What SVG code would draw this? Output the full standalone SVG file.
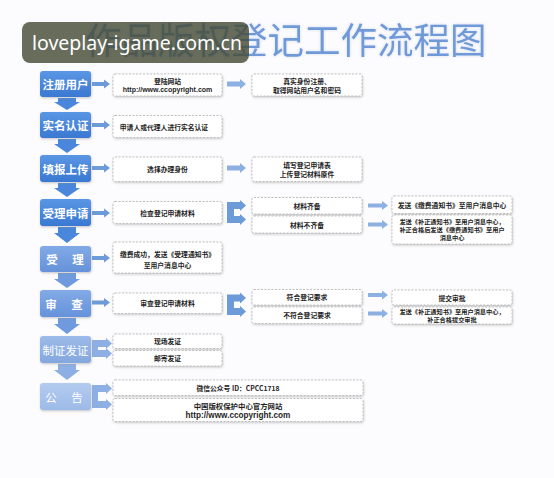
<svg xmlns="http://www.w3.org/2000/svg" width="554" height="478" viewBox="0 0 554 478">
<defs>
<linearGradient id="g1" x1="0" y1="0" x2="0" y2="1"><stop offset="0" stop-color="#5a96e4"/><stop offset="1" stop-color="#3a78d2"/></linearGradient>
<linearGradient id="g2" x1="0" y1="0" x2="0" y2="1"><stop offset="0" stop-color="#82aae6"/><stop offset="1" stop-color="#6592da"/></linearGradient>
<linearGradient id="g3" x1="0" y1="0" x2="0" y2="1"><stop offset="0" stop-color="#9cbbe9"/><stop offset="1" stop-color="#84a7df"/></linearGradient>
<linearGradient id="g4" x1="0" y1="0" x2="0" y2="1"><stop offset="0" stop-color="#b3cbef"/><stop offset="1" stop-color="#9dbae8"/></linearGradient>
<filter id="sh" x="-10%" y="-20%" width="130%" height="160%"><feDropShadow dx="0.6" dy="1.2" stdDeviation="1" flood-color="#8a8a8a" flood-opacity="0.45"/></filter>
<filter id="glow" x="-5%" y="-20%" width="110%" height="140%"><feDropShadow dx="0" dy="0" stdDeviation="1.5" flood-color="#c9d8f2" flood-opacity="0.9"/></filter>
</defs>
<style>
.lb{stroke:none;filter:url(#sh)}
.lt{font-family:"Noto Sans CJK SC","Noto Sans",sans-serif;font-weight:700;font-size:11.5px;fill:#ffffff;text-anchor:middle;dominant-baseline:central}
.db{fill:#ffffff;stroke:#b4b4b4;stroke-width:0.8;stroke-dasharray:2 1.5;filter:url(#sh)}
.t{font-family:"Noto Sans CJK SC","Liberation Sans",sans-serif;font-weight:700;font-size:6.8px;fill:#1e1e1e;text-anchor:middle;dominant-baseline:central}
.s{font-size:6.2px}
.u{font-family:"Liberation Sans","Noto Sans CJK SC",sans-serif;font-weight:700;font-size:7px;fill:#1e1e1e;text-anchor:middle;dominant-baseline:central}
.ha{fill:#6d9ad9}
.ma{fill:#8db0e3}
.da1{fill:#4a87dc}
.da2{fill:#6f9bde}
.da3{fill:#8eafe3}
</style>
<rect x="0" y="0" width="554" height="478" fill="#fcfbfd"/>
<text x="85" y="54" font-family="'Noto Sans CJK SC',sans-serif" font-size="36.5" fill="#7099d8" filter="url(#glow)">作品版权登记工作流程图</text>

<g id="connectors">
<polygon class="da1" points="58,98 76,98 76,102 80,102 67,110 54,102 58,102"/>
<polygon class="da1" points="58,139 76,139 76,144 80,144 67,153 54,144 58,144"/>
<polygon class="da1" points="58,183 76,183 76,188 80,188 67,197 54,188 58,188"/>
<polygon class="da1" points="58,227 76,227 76,233 80,233 67,243 54,233 58,233"/>
<polygon class="da2" points="58,273 76,273 76,279 80,279 67,288 54,279 58,279"/>
<polygon class="da2" points="58,318 76,318 76,324 80,324 67,334 54,324 58,324"/>
<polygon class="da3" points="58,364 76,364 76,370 80,370 67,380 54,370 58,370"/>
<polygon class="ha" points="92,82 104,82 104,79.5 110,84 104,88.5 104,86 92,86"/>
<polygon class="ha" points="92,123 104,123 104,120.5 110,125 104,129.5 104,127 92,127"/>
<polygon class="ha" points="92,166 104,166 104,163.5 110,168 104,172.5 104,170 92,170"/>
<polygon class="ha" points="92,211 104,211 104,208.5 110,213 104,217.5 104,215 92,215"/>
<polygon class="ha" points="92,256 104,256 104,253.5 110,258 104,262.5 104,260 92,260"/>
<polygon class="ha" points="92,300.5 104,300.5 104,298 110,302.5 104,307 104,304.5 92,304.5"/>
<polygon class="ma" points="227,81.5 240,81.5 240,79 246,84 240,89 240,86.5 227,86.5"/>
<polygon class="ma" points="227,165.5 240,165.5 240,163 246,168 240,173 240,170.5 227,170.5"/>
<path class="ha" d="M227,202 H240 V200 L246,205.5 L240,211 V209 H234 V216 H240 V214 L246,219.5 L240,225 V223 H227 Z"/>
<path class="ha" d="M227,294.5 H240 V292.5 L246,298 L240,303.5 V301.5 H234 V308 H240 V306 L246,311.5 L240,317 V315 H227 Z"/>
<path class="da3" d="M92,340 H106 V338 L112,343.5 L106,349 V347 H98 V350 H106 V348 L112,353.5 L106,359 V357 H92 Z"/>
<path class="da3" d="M92,385 H106 V383 L112,388.5 L106,394 V392 H98 V401 H106 V399 L112,404.5 L106,410 V408 H92 Z"/>
<polygon class="ma" points="368,203.5 382,203.5 382,201 388,205.5 382,210 382,207.5 368,207.5"/>
<polygon class="ma" points="368,222.5 382,222.5 382,220 388,224.5 382,229 382,226.5 368,226.5"/>
<polygon class="ma" points="368,293 382,293 382,290.5 388,295 382,299.5 382,297 368,297"/>
<polygon class="ma" points="368,311.5 382,311.5 382,309 388,313.5 382,318 382,315.5 368,315.5"/>
</g>

<g id="n-zhuce"><rect class="lb" x="40" y="71" width="51" height="26" rx="3" fill="url(#g1)"/><text class="lt" x="65.5" y="84">注册用户</text></g>
<g id="n-shiming"><rect class="lb" x="40" y="112" width="51" height="26" rx="3" fill="url(#g1)"/><text class="lt" x="65.5" y="125">实名认证</text></g>
<g id="n-tianbao"><rect class="lb" x="40" y="155" width="51" height="27" rx="3" fill="url(#g1)"/><text class="lt" x="65.5" y="168.5">填报上传</text></g>
<g id="n-shouli-sq"><rect class="lb" x="40" y="199" width="51" height="27" rx="3" fill="url(#g1)"/><text class="lt" x="65.5" y="212.5">受理申请</text></g>
<g id="n-shouli"><rect class="lb" x="40" y="246" width="51" height="26" rx="3" fill="url(#g2)"/><text class="lt" x="52" y="259">受</text><text class="lt" x="78" y="259">理</text></g>
<g id="n-shencha"><rect class="lb" x="40" y="290" width="51" height="27" rx="3" fill="url(#g2)"/><text class="lt" x="51" y="303.5">审</text><text class="lt" x="77" y="303.5">查</text></g>
<g id="n-zhizheng"><rect class="lb" x="40" y="336" width="51" height="27" rx="3" fill="url(#g3)"/><text class="lt" x="65.5" y="349.5" style="font-weight:400">制证发证</text></g>
<g id="n-gonggao"><rect class="lb" x="40" y="383" width="51" height="27" rx="3" fill="url(#g4)"/><text class="lt" x="51" y="396.5" style="font-weight:400">公</text><text class="lt" x="77" y="396.5" style="font-weight:400">告</text></g>

<g id="b-denglu"><rect class="db" x="113" y="74" width="109" height="22" rx="2"/><text class="t" x="167.5" y="80.5">登陆网站</text><text class="u" x="167.5" y="89.5">http://www.ccopyright.com</text></g>
<g id="b-zhenshi"><rect class="db" x="252" y="74" width="110" height="22" rx="2"/><text class="t" x="307" y="80.5">真实身份注册、</text><text class="t" x="307" y="89.5">取得网站用户名和密码</text></g>
<g id="b-shiming"><rect class="db" x="113" y="115.5" width="109" height="22" rx="2"/><text class="t" x="164" y="126.5">申请人或代理人进行实名认证</text></g>
<g id="b-xuanze"><rect class="db" x="113" y="157" width="109" height="24.5" rx="2"/><text class="t" x="167.5" y="169">选择办理身份</text></g>
<g id="b-tianxie"><rect class="db" x="252" y="157" width="110" height="24.5" rx="2"/><text class="t" x="307" y="164.5">填写登记申请表</text><text class="t" x="307" y="174">上传登记材料原件</text></g>
<g id="b-jiancha"><rect class="db" x="113" y="201.5" width="109" height="22" rx="2"/><text class="t" x="167.5" y="212.5">检查登记申请材料</text></g>
<g id="b-qibei"><rect class="db" x="252" y="197.5" width="110" height="16.5" rx="2"/><text class="t" x="307" y="205.5">材料齐备</text></g>
<g id="b-buqibei"><rect class="db" x="252" y="216" width="110" height="17" rx="2"/><text class="t" x="307" y="224.5">材料不齐备</text></g>
<g id="b-jiaofei"><rect class="db" x="392" y="196" width="120" height="17.5" rx="2"/><text class="t" x="452" y="205">发送《缴费通知书》至用户消息中心</text></g>
<g id="b-buzheng1"><rect class="db" x="392" y="215" width="120" height="29" rx="2"/><text class="t s" x="452" y="221.5">发送《补正通知书》至用户消息中心，</text><text class="t s" x="452" y="229.5">补正合格后发送《缴费通知书》至用户</text><text class="t s" x="452" y="237.5">消息中心</text></g>
<g id="b-jiaofei-ok"><rect class="db" x="113" y="242" width="109" height="31" rx="2"/><text class="t" x="167.5" y="253.5">缴费成功，发送《受理通知书》</text><text class="t" x="167.5" y="264.5">至用户消息中心</text></g>
<g id="b-shencha"><rect class="db" x="113" y="293" width="109" height="20.5" rx="2"/><text class="t" x="167.5" y="303">审查登记申请材料</text></g>
<g id="b-fuhe"><rect class="db" x="252" y="289.5" width="110" height="15.5" rx="2"/><text class="t" x="307" y="297">符合登记要求</text></g>
<g id="b-bufuhe"><rect class="db" x="252" y="307" width="110" height="16.5" rx="2"/><text class="t" x="307" y="315">不符合登记要求</text></g>
<g id="b-tijiao"><rect class="db" x="392" y="290" width="120" height="15" rx="2"/><text class="t" x="452" y="297.5">提交审批</text></g>
<g id="b-buzheng2"><rect class="db" x="392" y="307" width="120" height="17" rx="2"/><text class="t s" x="452" y="311.5">发送《补正通知书》至用户消息中心，</text><text class="t s" x="452" y="319.5">补正合格提交审批</text></g>
<g id="b-xianchang"><rect class="db" x="113" y="334" width="109" height="14.5" rx="2"/><text class="t" x="167.5" y="341">现场发证</text></g>
<g id="b-youji"><rect class="db" x="113" y="350.5" width="109" height="15.5" rx="2"/><text class="t" x="167.5" y="358">邮寄发证</text></g>
<g id="b-weixin"><rect class="db" x="113" y="380" width="250" height="15.5" rx="2"/><text class="t" x="238" y="387.5">微信公众号 ID：CPCC1718</text></g>
<g id="b-wangzhan"><rect class="db" x="113" y="398.5" width="250" height="23" rx="2"/><text class="t" x="238" y="405" style="font-size:7.4px">中国版权保护中心官方网站</text><text class="u" x="238" y="415" style="font-size:8.2px">http://www.ccopyright.com</text></g>

<g id="watermark"><rect x="22" y="22" width="227" height="41" rx="8" fill="#454c37" fill-opacity="0.82"/><text x="32" y="50" font-family="'Noto Sans','Open Sans',sans-serif" font-size="19.5" fill="#ffffff">loveplay-igame.com.cn</text></g>
</svg>
